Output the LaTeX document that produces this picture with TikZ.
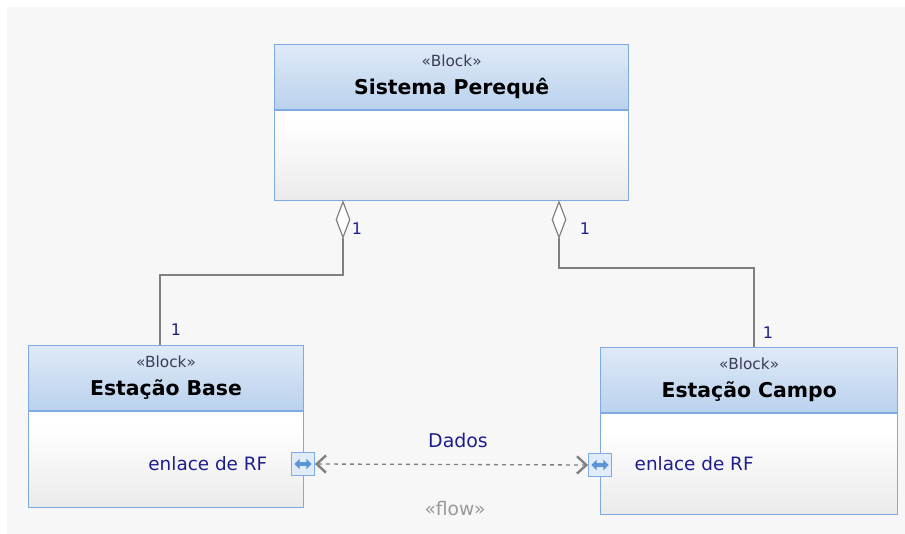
\documentclass[tikz,border=0pt]{standalone}
\usepackage{fontspec}
\setmainfont{DejaVu Sans}
\usetikzlibrary{positioning,shapes.geometric,arrows.meta}
\definecolor{blkline}{RGB}{125,170,224}
\definecolor{headtop}{RGB}{223,234,248}
\definecolor{headbot}{RGB}{186,209,237}
\definecolor{navy}{RGB}{30,30,140}
\definecolor{stereo}{RGB}{60,60,90}
\definecolor{conn}{RGB}{128,128,128}
\definecolor{portfill}{RGB}{225,236,250}
\definecolor{portarr}{RGB}{90,150,215}

\begin{document}
\begin{tikzpicture}[x=0.75pt,y=-0.75pt,font=\fontsize{10}{12}\selectfont]
            \tikzset{block/.style={draw=blkline,line width=1pt,inner sep=0pt,anchor=north west,
                       top color=white,bottom color=black!8,middle color=white,shading angle=0},
                     head/.style={draw=blkline,line width=1pt,inner sep=0pt,anchor=north west,
                       top color=headtop,bottom color=headbot,align=center,minimum height=49pt,
                       text depth=4pt},
                     agg/.style={diamond,draw=conn,fill=white,line width=0.9pt,inner sep=0pt,
                       minimum width=10.5pt,minimum height=27pt,anchor=north},
                     assoc/.style={draw=conn,line width=1pt},
                     mult/.style={text=navy,font=\fontsize{12}{14}\selectfont},
                     port/.style={draw=blkline,fill=portfill,line width=0.9pt,minimum size=17pt,inner sep=0pt},
                     portarrow/.style={draw=portarr,line width=2.6pt,{Triangle[length=4pt,width=8pt]}-{Triangle[length=4pt,width=8pt]}},
                     flow/.style={conn,dashed,line width=1pt,
                       {Straight Barb[length=7pt,width=13pt,line width=1.8pt]}-{Straight Barb[length=7pt,width=13pt,line width=1.8pt]}},
                     partname/.style={text=navy,font=\fontsize{13.8}{16}\selectfont}}
            \newcommand{\blockhead}[1]{{\color{stereo}\fontsize{11.5}{13}\selectfont «Block»}\\[7.5pt]\textbf{\fontsize{15.3}{17}\selectfont #1}}
            \fill[white] (0,0) rectangle (905,534);
            \fill[black!3] (7,7) rectangle (905,534);
            % blocos
            \node[block,minimum width=265.5pt,minimum height=117pt] (sis) at (274,44) {};
            \node[head,minimum width=265.5pt] (sish) at (sis.north west) {\blockhead{Sistema Perequê}};
            \node[block,minimum width=206pt,minimum height=121.5pt] (base) at (28,345) {};
            \node[head,minimum width=206pt] (baseh) at (base.north west) {\blockhead{Estação Base}};
            \node[block,minimum width=222.75pt,minimum height=125pt] (campo) at (600,347) {};
            \node[head,minimum width=222.75pt] (campoh) at (campo.north west) {\blockhead{Estação Campo}};
            % agregacoes
            \node[agg] (d1) at (343,201) {};
            \node[agg] (d2) at (559,201) {};
            \coordinate (b1) at (160,275);
            \coordinate (b2) at (754,268);
            \draw[assoc] (d1.south) |- (b1) -- (b1 |- base.north);
            \draw[assoc] (d2.south) |- (b2) -- (b2 |- campo.north);
            \node[mult] (m1) at (357,229) {1};
            \node[mult] (m2) at (585,229) {1};
            \node[mult] (m3) at (176,330) {1};
            \node[mult] (m4) at (768,333) {1};
            % portas
            \node[port] (p1) at (303,464) {};
            \node[port] (p2) at (600,465) {};
            \draw[portarrow] ([xshift=2.5pt]p1.west) -- ([xshift=-2.5pt]p1.east);
            \draw[portarrow] ([xshift=2.5pt]p2.west) -- ([xshift=-2.5pt]p2.east);
            \node[partname,anchor=east] (e1) at (272,464) {enlace de RF};
            \node[partname,anchor=west] (e2) at (630,464) {enlace de RF};
            \draw[flow] (p1.east) -- (p2.west);
            \node[partname,font=\fontsize{14.2}{16}\selectfont] (dados) at (458,440) {Dados};
            \node[text=black!40,font=\fontsize{14}{16}\selectfont] (fl) at (455,509) {«flow»};
\end{tikzpicture}
\end{document}
